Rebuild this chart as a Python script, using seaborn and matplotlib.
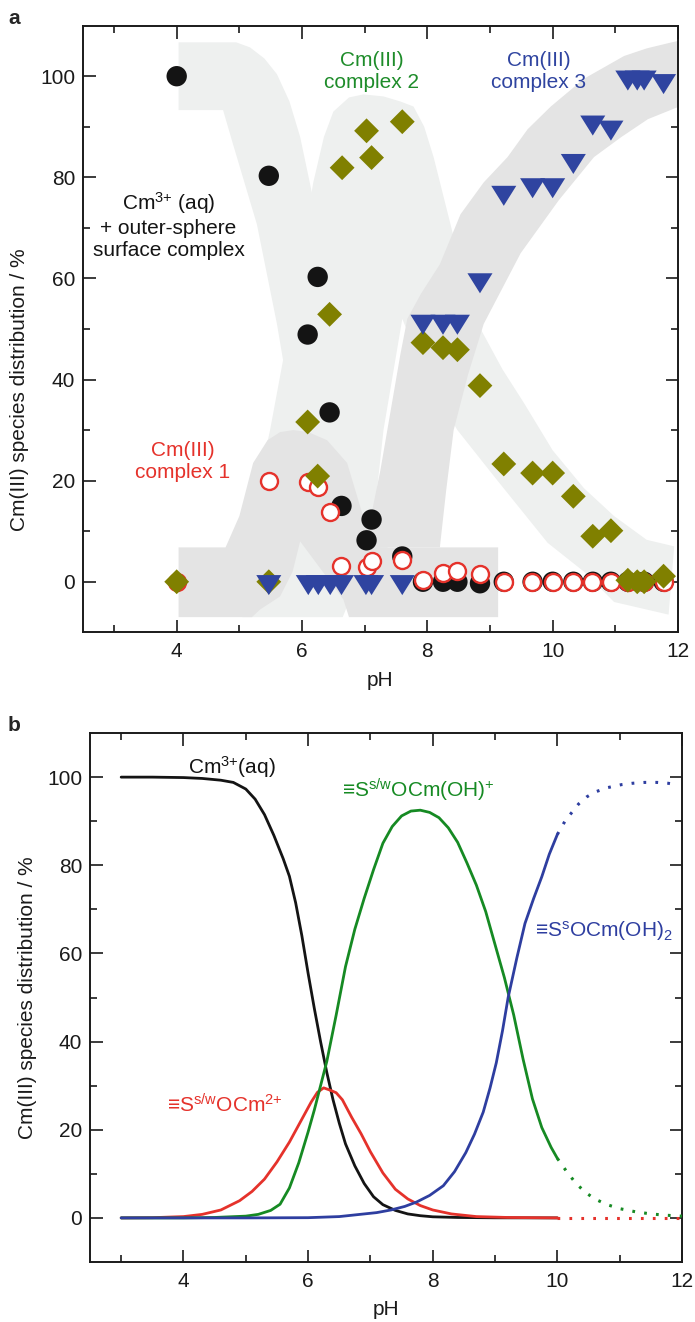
import matplotlib
matplotlib.use("Agg")
import matplotlib.pyplot as plt
import numpy as np
import pandas as pd
import seaborn as sns

# ---------------- Panel a : measured species distribution (%) ----------------
ph_aq = [4.00, 5.47, 6.09, 6.25, 6.44, 6.63, 7.03, 7.11, 7.60, 7.93, 8.25, 8.48, 8.84,
         9.22, 9.68, 10.00, 10.33, 10.64, 10.93, 11.20, 11.46, 11.77]
val_aq = [100.0, 80.3, 48.9, 60.3, 33.5, 15.0, 8.2, 12.3, 5.0, 0.0, 0.0, 0.0, -0.3,
          0.0, 0.0, 0.0, 0.0, 0.0, 0.0, 0.0, 0.0, 0.0]

ph_c1 = [4.00, 5.47, 6.09, 6.25, 6.44, 6.63, 7.03, 7.11, 7.59, 7.93, 8.25, 8.48, 8.84,
         9.22, 9.67, 10.00, 10.33, 10.63, 10.93, 11.20, 11.46, 11.77]
val_c1 = [0.0, 19.9, 19.7, 18.7, 13.7, 3.2, 2.9, 4.2, 4.4, 0.4, 1.7, 2.2, 1.5,
          0.0, 0.0, 0.0, 0.0, 0.0, 0.0, 0.0, 0.0, 0.0]

ph_c2 = [4.00, 5.47, 6.09, 6.25, 6.44, 6.64, 7.03, 7.11, 7.60, 7.93, 8.25, 8.48, 8.84,
         9.22, 9.68, 10.00, 10.33, 10.64, 10.93, 11.20, 11.35, 11.46, 11.77]
val_c2 = [0.0, 0.0, 31.6, 20.9, 52.9, 81.9, 89.2, 83.9, 91.0, 47.3, 46.3, 45.9, 38.8,
          23.3, 21.5, 21.5, 16.9, 9.0, 10.1, 0.3, 0.0, 0.0, 1.1]

ph_c3 = [5.47, 6.10, 6.26, 6.45, 6.63, 7.02, 7.11, 7.60, 7.93, 8.25, 8.48, 8.84,
         9.22, 9.68, 10.00, 10.33, 10.64, 10.93, 11.20, 11.35, 11.46, 11.77]
val_c3 = [0.0, 0.0, 0.0, 0.0, 0.0, 0.0, 0.0, 0.0, 51.5, 51.5, 51.5, 59.7,
          77.0, 78.5, 78.5, 83.3, 90.9, 89.9, 99.8, 99.8, 99.8, 99.1]

# ---------------- Panel a : grey guide bands (outline vertices, pH / %) ----------------
band_aq_ph = [4.03, 4.95, 5.17, 5.40, 5.60, 5.80, 5.97, 6.13, 6.40, 6.70, 7.00, 7.30, 7.40,
              6.30, 6.00, 5.75, 5.60, 5.28, 4.90, 4.74, 4.03]
band_aq_val = [106.7, 106.7, 105.7, 103.5, 100.4, 95.0, 88.0, 78.6, 62.0, 44.0, 27.0, 10.0, 5.0,
               0.0, 22.0, 40.0, 51.0, 70.7, 86.5, 93.3, 93.3]

band_c2_ph = [5.05, 5.20, 5.35, 5.49, 5.70, 5.95, 6.18, 6.35, 6.50, 6.75, 6.98, 7.30, 7.57,
              7.78, 7.95, 8.10, 8.37, 8.60, 8.85, 9.20, 9.54, 10.00, 10.50, 10.98, 11.50,
              11.94, 11.85, 10.98, 10.50, 9.92, 9.12, 8.48, 8.00, 7.60, 7.30, 7.10, 6.65]
band_c2_val = [-7.0, 10.0, 22.0, 30.0, 44.0, 62.0, 79.0, 88.0, 93.0, 95.8, 96.4, 96.0, 95.0,
               94.0, 90.0, 84.0, 70.7, 59.0, 50.0, 42.0, 35.4, 26.0, 18.5, 13.0, 8.3,
               7.0, -6.5, -4.0, 2.0, 7.7, 20.0, 30.0, 40.0, 52.0, 30.0, 7.0, -7.0]

band_c1_ph = [4.03, 4.78, 5.00, 5.22, 5.45, 5.65, 5.86, 6.10, 6.40, 6.72, 6.95, 7.10, 7.25,
              9.13, 9.13, 6.75, 6.66, 6.30, 5.97, 5.85, 5.65, 5.33, 5.20, 4.03]
band_c1_val = [6.8, 6.8, 13.0, 23.5, 28.0, 29.6, 30.0, 29.6, 28.0, 23.5, 14.0, 9.0, 6.8,
               6.8, -7.0, -7.0, -3.5, 2.5, 8.0, 2.0, -2.9, -5.5, -7.0, -7.0]

band_c3_ph = [7.00, 7.25, 7.57, 7.68, 7.90, 8.20, 8.53, 8.90, 9.28, 9.60, 9.97, 10.50, 11.14,
              11.50, 11.90, 12.20, 12.20, 12.00, 11.52, 11.10, 10.66, 10.10, 9.49, 8.90,
              8.65, 8.42, 8.30, 8.20]
band_c3_val = [6.8, 22.0, 45.0, 52.0, 57.0, 62.8, 72.7, 79.0, 84.0, 89.5, 94.0, 99.5, 104.0,
               105.5, 106.7, 107.5, 94.0, 93.9, 91.5, 88.0, 84.0, 75.5, 65.0, 51.0,
               41.0, 30.0, 18.0, 6.8]

# ---------------- Panel b : modelled speciation curves (%) ----------------
b_aq_ph = [3.0, 3.5, 4.0, 4.3, 4.6, 4.8, 5.0, 5.15, 5.3, 5.45, 5.6, 5.7, 5.8, 5.9, 6.0,
           6.1, 6.2, 6.3, 6.4, 6.5, 6.6, 6.75, 6.9, 7.05, 7.2, 7.4, 7.6, 7.8, 8.0, 8.4,
           9.0, 10.0]
b_aq_val = [100.0, 100.0, 99.9, 99.7, 99.3, 98.8, 97.3, 95.0, 91.5, 86.8, 81.5, 77.5, 71.5,
            64.0, 55.5, 47.5, 40.0, 33.0, 26.8, 21.5, 16.8, 11.8, 7.8, 4.8, 3.0, 1.7, 0.9,
            0.5, 0.25, 0.1, 0.02, 0.0]

b_c1_ph = [3.0, 3.5, 4.0, 4.3, 4.6, 4.9, 5.1, 5.3, 5.5, 5.7, 5.9, 6.05, 6.15, 6.25, 6.35,
           6.45, 6.55, 6.7, 6.85, 7.0, 7.2, 7.4, 7.6, 7.8, 8.0, 8.3, 8.7, 9.2, 10.0,
           10.5, 11.0, 11.5, 12.0]
b_c1_val = [0.0, 0.05, 0.3, 0.8, 1.8, 3.9, 6.0, 8.8, 12.7, 17.2, 22.4, 26.3, 28.5, 29.5, 29.0,
            28.4, 26.8, 22.8, 19.1, 15.0, 10.2, 6.5, 4.3, 2.8, 1.8, 0.9, 0.3, 0.1, 0.0,
            0.0, 0.0, 0.0, 0.0]

b_c2_ph = [3.0, 4.0, 4.5, 5.0, 5.2, 5.4, 5.55, 5.7, 5.85, 6.0, 6.1, 6.2, 6.3, 6.45, 6.6,
           6.75, 6.9, 7.05, 7.2, 7.35, 7.5, 7.65, 7.8, 7.95, 8.1, 8.25, 8.4, 8.55, 8.7,
           8.85, 9.0, 9.15, 9.3, 9.45, 9.6, 9.75, 9.9, 10.0, 10.15, 10.3, 10.45, 10.6,
           10.8, 11.0, 11.25, 11.5, 11.75, 12.0]
b_c2_val = [0.0, 0.0, 0.1, 0.4, 0.8, 1.7, 3.1, 6.8, 12.5, 19.5, 24.5, 30.0, 35.5, 46.0, 57.0,
            65.5, 72.5, 79.0, 85.0, 88.8, 91.2, 92.3, 92.5, 92.0, 90.8, 88.5, 85.2, 80.5,
            75.5, 69.5, 62.0, 54.5, 46.0, 36.0, 27.0, 20.5, 16.0, 13.5, 10.5, 7.8, 5.8,
            4.3, 3.0, 2.1, 1.4, 0.9, 0.6, 0.4]

b_c3_ph = [3.0, 4.0, 5.0, 6.0, 6.5, 6.9, 7.1, 7.33, 7.55, 7.74, 7.95, 8.17, 8.35, 8.53,
           8.67, 8.81, 8.92, 9.02, 9.12, 9.21, 9.35, 9.48, 9.62, 9.75, 9.87, 10.0, 10.13,
           10.25, 10.34, 10.47, 10.6, 10.8, 11.03, 11.2, 11.4, 11.6, 11.78, 11.94]
b_c3_val = [0.0, 0.0, 0.0, 0.05, 0.3, 0.9, 1.2, 1.8, 2.6, 3.6, 5.1, 7.3, 10.5, 14.8,
            19.0, 24.0, 29.5, 35.2, 42.5, 50.0, 59.0, 66.8, 72.5, 77.4, 82.5, 87.0, 90.2,
            92.3, 93.9, 95.5, 96.6, 97.6, 98.3, 98.6, 98.8, 98.8, 98.6, 98.2]

x_major = [4, 6, 8, 10, 12]
x_minor = [3, 5, 7, 9, 11]
y_major = [0, 20, 40, 60, 80, 100]
y_minor = [10, 30, 50, 70, 90]

# ---------------- style ----------------
sns.set_theme(style="ticks")
plt.rcParams['font.family'] = ['Liberation Sans', 'DejaVu Sans']
plt.rcParams['mathtext.fontset'] = 'custom'
plt.rcParams['mathtext.rm'] = 'Liberation Sans'
plt.rcParams['mathtext.it'] = 'Liberation Sans:italic'
plt.rcParams['mathtext.bf'] = 'Liberation Sans:bold'

C_BLACK = '#141414'
C_RED = '#e5322b'
C_OLIVE = '#808000'
C_BLUE = '#2f44a0'
C_GREEN = '#1e8c2a'
C_GREEN_LINE = '#168a23'
C_BLUE_LINE = '#2e3ea0'
LIGHT = '#eef0ef'
DARK = '#e4e4e4'
FS = 15

fig = plt.figure(figsize=(6.95, 13.22), dpi=100)
axa = fig.add_axes([0.119, 0.5217, 0.8565, 0.4589])
axb = fig.add_axes([0.1295, 0.0454, 0.8518, 0.4001])

# ---- panel a bands ----
axa.fill(band_aq_ph, band_aq_val, color=LIGHT, lw=0, zorder=0.5)
axa.fill(band_c2_ph, band_c2_val, color=LIGHT, lw=0, zorder=0.5)
axa.fill(band_c1_ph, band_c1_val, color=DARK, lw=0, zorder=0.6)
axa.fill(band_c3_ph, band_c3_val, color=DARK, lw=0, zorder=0.6)

# ---- panel a points ----
tri = [(-1.0, 0.533), (1.0, 0.533), (0.0, -1.067)]
sns.scatterplot(x=ph_aq, y=val_aq, marker='o', s=215, color=C_BLACK, edgecolor='none',
                linewidth=0, ax=axa, zorder=3, legend=False)
sns.scatterplot(x=ph_c1, y=val_c1, marker='o', s=150, facecolor='white', edgecolor=C_RED,
                linewidth=1.7, ax=axa, zorder=4, legend=False)
sns.scatterplot(x=ph_c2, y=val_c2, marker='D', s=160, color=C_OLIVE, edgecolor='none',
                linewidth=0, ax=axa, zorder=5, legend=False)
sns.scatterplot(x=ph_c3, y=val_c3, marker=tri, s=370, color=C_BLUE, edgecolor='none',
                linewidth=0, ax=axa, zorder=6, legend=False)

axa.text(7.11, 101, "Cm(III)\ncomplex 2", color=C_GREEN, ha='center', va='center',
         fontsize=FS, linespacing=1.2)
axa.text(9.78, 101, "Cm(III)\ncomplex 3", color=C_BLUE, ha='center', va='center',
         fontsize=FS, linespacing=1.2)
axa.text(4.09, 23.8, "Cm(III)\ncomplex 1", color=C_RED, ha='center', va='center',
         fontsize=FS, linespacing=1.2)
axa.text(3.87, 70.6, "Cm$^{3{+}}$ (aq)\n+ outer-sphere\nsurface complex", color=C_BLACK,
         ha='center', va='center', multialignment='center', fontsize=FS, linespacing=1.2)

# ---- panel b curves ----
def draw_curve(ph, val, color, z):
    df = pd.DataFrame({'pH': ph, 'val': val})
    solid = df[df['pH'] <= 10.0]
    dotted = df[df['pH'] >= 10.0]
    sns.lineplot(data=solid, x='pH', y='val', color=color, lw=2.0, ax=axb, zorder=z,
                 errorbar=None, legend=False)
    if len(dotted) > 1:
        sns.lineplot(data=dotted, x='pH', y='val', color=color, lw=2.2, ax=axb, zorder=z,
                     errorbar=None, legend=False, linestyle=(0, (0.9, 3.0)))

draw_curve(b_aq_ph, b_aq_val, C_BLACK, 3)
draw_curve(b_c1_ph, b_c1_val, C_RED, 4)
draw_curve(b_c2_ph, b_c2_val, C_GREEN_LINE, 5)
draw_curve(b_c3_ph, b_c3_val, C_BLUE_LINE, 6)

axb.text(4.08, 100.7, "Cm$^{3{+}}$(aq)", color=C_BLACK, ha='left', va='baseline', fontsize=FS)
axb.text(6.55, 95.4, "\u2261S$^{\\mathrm{s/w}}$OCm(OH)$^{+}$", color=C_GREEN_LINE,
         ha='left', va='baseline', fontsize=FS)
axb.text(9.64, 63.8, "\u2261S$^{\\mathrm{s}}$OCm(OH)$_{2}$", color=C_BLUE_LINE,
         ha='left', va='baseline', fontsize=FS)
axb.text(3.73, 23.9, "\u2261S$^{\\mathrm{s/w}}$OCm$^{2{+}}$", color=C_RED,
         ha='left', va='baseline', fontsize=FS)

# ---- axes styling ----
for ax, ylab_center in ((axa, 0.40), (axb, 0.5)):
    ax.set_xlim(2.5, 12)
    ax.set_ylim(-10, 110)
    ax.set_xticks(x_major)
    ax.set_xticks(x_minor, minor=True)
    ax.set_yticks(y_major)
    ax.set_yticks(y_minor, minor=True)
    ax.set_xticklabels([str(v) for v in x_major])
    ax.set_yticklabels([str(v) for v in y_major])
    ax.tick_params(which='both', direction='in', top=True, right=True, width=1.2,
                   color='#1a1a1a', labelcolor='#1a1a1a', labelsize=FS)
    ax.tick_params(which='major', length=9)
    ax.tick_params(which='minor', length=5)
    ax.tick_params(axis='x', which='both', pad=7)
    ax.tick_params(axis='y', which='both', pad=5.5)
    for sp in ax.spines.values():
        sp.set_visible(True)
        sp.set_linewidth(1.4)
        sp.set_color('#1a1a1a')
    ax.set_facecolor('white')
    ax.grid(False)
    ax.set_xlabel("pH", fontsize=FS, color='#1a1a1a', labelpad=7)
    ax.set_ylabel("Cm(III) species distribution / %", fontsize=FS, color='#1a1a1a')
    ax.yaxis.set_label_coords(-0.09, ylab_center)

fig.text(14 / 695, 1 - 24 / 1322, "a", fontsize=FS, fontweight='bold', ha='center',
         va='baseline')
fig.text(14 / 695, 1 - 731 / 1322, "b", fontsize=FS, fontweight='bold', ha='center',
         va='baseline')

fig.savefig("out.png", dpi=100)
